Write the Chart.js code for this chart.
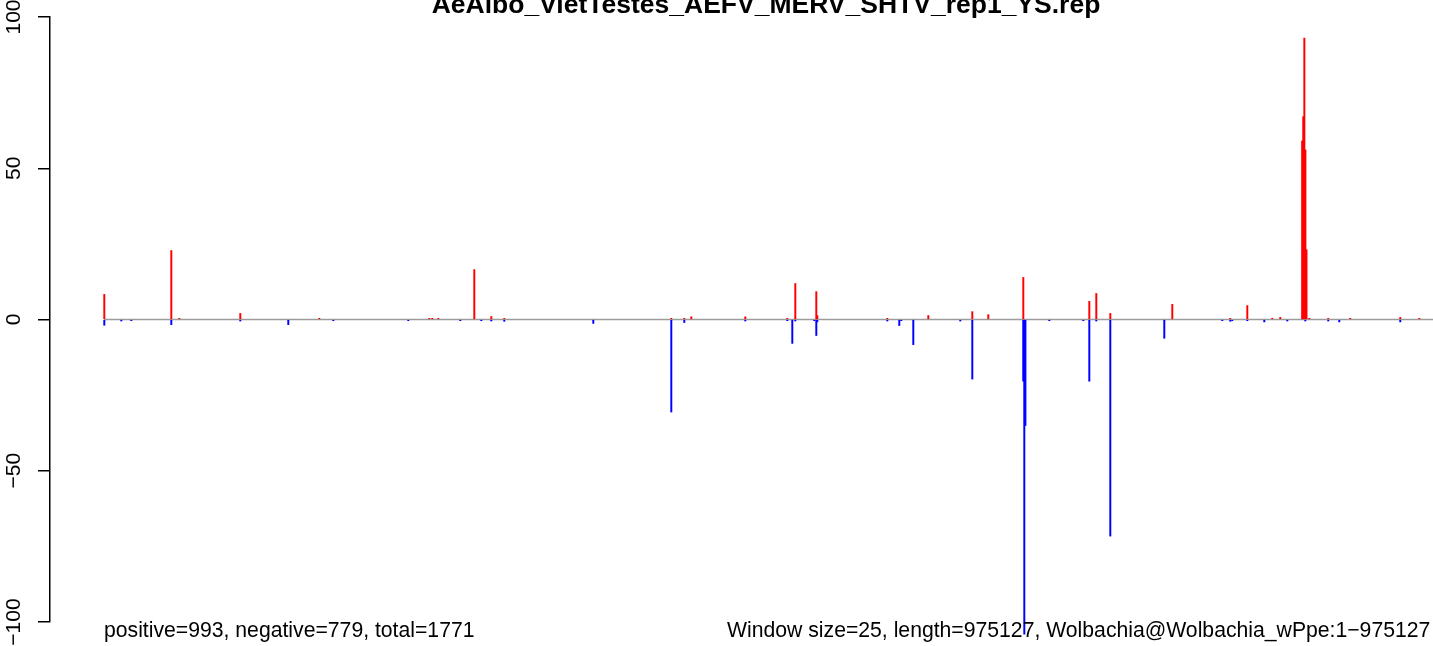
<!DOCTYPE html>
<html>
<head>
<meta charset="utf-8">
<script src="https://cdn.jsdelivr.net/npm/chart.js@4/dist/chart.umd.min.js"></script>
<style>
  html, body { margin: 0; padding: 0; background: #fff; overflow: hidden; }
  #wrap { width: 1433px; height: 646px; }
</style>
</head>
<body>
<div id="wrap"><canvas id="repChart" width="1433" height="646"></canvas></div>
<script>
// genome length and window info
const genomeLength = 975127;
const titleText = 'AeAlbo_VietTestes_AEFV_MERV_SHTV_rep1_YS.rep';
const leftNote = 'positive=993, negative=779, total=1771';
const rightNote = 'Window size=25, length=975127, Wolbachia@Wolbachia_wPpe:1\u2212975127';
const yTicks = [-100, -50, 0, 50, 100];

// positive-strand windows (position, count)
const posX = [220, 49380, 55250, 100007, 157972, 238682, 240883, 245285, 271700, 284173,
  293712, 416246, 425784, 430920, 470542, 501359, 507231, 522639, 523373, 574734,
  604818, 637102, 648841, 674522, 722949, 728085, 738357, 783840, 826397, 838870,
  857213, 863083, 879155, 879522, 879962, 880329, 880733, 881210, 881503, 881943,
  882310, 884346, 898271, 914413, 951121, 965062];
const posY = [8.3, 22.8, 0.4, 2.0, 0.4, 0.4, 0.4, 0.4, 16.5, 1.0,
  0.4, 0.4, 0.4, 0.9, 0.9, 0.4, 11.9, 9.2, 1.3, 0.4,
  1.3, 2.6, 1.6, 13.9, 6.0, 8.6, 2.0, 5.0, 0.4, 4.6,
  0.4, 0.7, 59, 59, 67, 67, 93, 56, 56, 23,
  23, 0.4, 0.4, 0.4, 0.7, 0.4];

// negative-strand windows (position, count)
const negX = [220, 12693, 20031, 49380, 100007, 135222, 168240, 223270, 261423, 276830,
  284173, 293712, 359006, 416246, 425784, 470542, 501359, 505029, 507231, 521167,
  522639, 523373, 574734, 583525, 584993, 593802, 628286, 637102, 674522, 674889,
  675256, 675696, 676063, 693587, 718540, 722949, 728085, 738357, 777970, 820528,
  826397, 827865, 838870, 851343, 868218, 881426, 898271, 906371, 951121];
const negY = [-1.9, -0.5, -0.4, -1.7, -0.5, -1.7, -0.4, -0.4, -0.4, -0.4,
  -0.5, -0.6, -1.3, -30.6, -1.0, -0.5, -0.4, -7.9, -0.5, -0.4,
  -5.3, -0.8, -0.5, -2.0, -0.4, -8.3, -0.5, -19.7, -20.4, -20,
  -104, -35, -35, -0.4, -0.4, -20.4, -0.5, -71.6, -6.2, -0.4,
  -0.6, -0.4, -0.4, -0.8, -0.5, -0.5, -0.5, -0.8, -0.8];

const toPoints = (xs, ys) => xs.map((x, i) => ({ x: x, y: ys[i] }));

const fontFamily = '"Liberation Sans", Arial, Helvetica, sans-serif';

// draws title and the two footnotes
const notesPlugin = {
  id: 'notes',
  afterDraw(chart) {
    const ctx = chart.ctx;
    ctx.save();
    ctx.fillStyle = '#000';
    ctx.textBaseline = 'alphabetic';
    ctx.font = 'bold 26.5px ' + fontFamily;
    ctx.textAlign = 'center';
    ctx.fillText(titleText, 766, 13);
    ctx.font = '21.2px ' + fontFamily;
    ctx.textAlign = 'left';
    const x0 = chart.scales.x.getPixelForValue(0);
    ctx.fillText(leftNote, x0, 637);
    ctx.fillText(rightNote, 727, 637);
    ctx.restore();
  }
};

const ctx = document.getElementById('repChart');
new Chart(ctx, {
  type: 'bar',
  data: {
    datasets: [
      {
        type: 'line',
        data: [{ x: 0, y: 0 }, { x: genomeLength, y: 0 }],
        borderColor: '#9c9c9c',
        borderWidth: 1.6,
        pointRadius: 0,
        order: 3,
      },
      {
        data: toPoints(posX, posY),
        backgroundColor: '#ff0000',
        barThickness: 1.3,
        grouped: false,
        clip: false,
        order: 1,
      },
      {
        data: toPoints(negX, negY),
        backgroundColor: '#0000ff',
        barThickness: 1.3,
        grouped: false,
        clip: false,
        order: 2,
      },
    ],
  },
  options: {
    responsive: false,
    animation: false,
    events: [],
    layout: { padding: { top: 17, bottom: 24, left: 0, right: 0 } },
    plugins: {
      legend: { display: false },
      tooltip: { enabled: false },
      title: { display: false },
    },
    scales: {
      x: {
        type: 'linear',
        display: false,
        offset: false,
        min: -39621,
        max: genomeLength,
      },
      y: {
        min: -100,
        max: 100,
        afterBuildTicks: (scale) => { scale.ticks = yTicks.map((v) => ({ value: v })); },
        afterFit: (scale) => { scale.width = 50; },
        border: { display: true, color: '#000', width: 1.5 },
        grid: { drawOnChartArea: false, drawTicks: true, tickLength: 12, color: '#000', lineWidth: 1.5 },
        ticks: {
          minRotation: 90,
          maxRotation: 90,
          crossAlign: 'center',
          padding: 0,
          color: '#000',
          font: { family: fontFamily, size: 21 },
          callback: (v) => String(v).replace('-', '\u2212'),
        },
      },
    },
  },
  plugins: [notesPlugin],
});
</script>
</body>
</html>
